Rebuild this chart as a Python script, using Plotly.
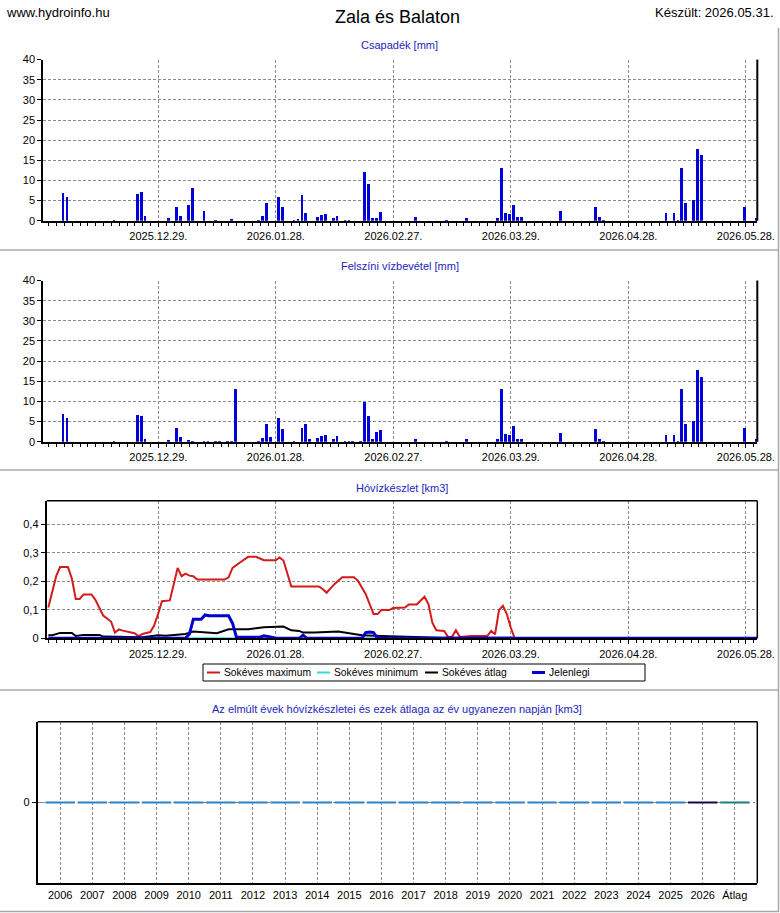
import plotly.graph_objects as go
import pandas as pd

W, H = 780, 913

# ---------------- data ----------------
# Panel 1: Csapadék [mm]
precip_dates = ["2025-12-04", "2025-12-05", "2025-12-17", "2025-12-23", "2025-12-24", "2025-12-25",
                "2025-12-31", "2026-01-02", "2026-01-03", "2026-01-05", "2026-01-06", "2026-01-09",
                "2026-01-12", "2026-01-16", "2026-01-23", "2026-01-24", "2026-01-25", "2026-01-28",
                "2026-01-29", "2026-02-01", "2026-02-02", "2026-02-03", "2026-02-04", "2026-02-07",
                "2026-02-08", "2026-02-09", "2026-02-11", "2026-02-12", "2026-02-14", "2026-02-15",
                "2026-02-19", "2026-02-20", "2026-02-21", "2026-02-22", "2026-02-23", "2026-03-04",
                "2026-03-12", "2026-03-17", "2026-03-25", "2026-03-26", "2026-03-27", "2026-03-28",
                "2026-03-29", "2026-03-30", "2026-03-31", "2026-04-10", "2026-04-19", "2026-04-20",
                "2026-04-21", "2026-05-07", "2026-05-09", "2026-05-10", "2026-05-11", "2026-05-12",
                "2026-05-14", "2026-05-15", "2026-05-16", "2026-05-27", "2026-05-30"]
precip_mm = [7.0, 5.9, 0.2, 6.8, 7.3, 1.2,
             0.7, 3.6, 1.3, 4.1, 8.1, 2.6,
             0.2, 0.6, 0.2, 1.2, 4.4, 5.9,
             3.4, 0.2, 0.6, 6.4, 1.9, 1.0,
             1.4, 1.7, 0.7, 1.3, 0.2, 0.2,
             12.1, 9.1, 0.7, 0.7, 2.2, 0.9,
             0.2, 0.7, 0.7, 13.3, 2.1, 1.7,
             4.1, 0.9, 0.9, 2.4, 3.4, 0.9,
             0.2, 1.9, 1.9, 0.2, 13.1, 4.5,
             5.2, 17.8, 16.3, 3.6, 0.7]

# Panel 2: Felszíni vízbevétel [mm]
runoff_dates = ["2025-12-04", "2025-12-05", "2025-12-17", "2025-12-23", "2025-12-24", "2025-12-25",
                "2025-12-31", "2026-01-02", "2026-01-03", "2026-01-05", "2026-01-06", "2026-01-09",
                "2026-01-10", "2026-01-12", "2026-01-13", "2026-01-15", "2026-01-16", "2026-01-17",
                "2026-01-23", "2026-01-24", "2026-01-25", "2026-01-26", "2026-01-28", "2026-01-29",
                "2026-02-01", "2026-02-03", "2026-02-04", "2026-02-05", "2026-02-07", "2026-02-08",
                "2026-02-09", "2026-02-11", "2026-02-12", "2026-02-14", "2026-02-15", "2026-02-16",
                "2026-02-18", "2026-02-19", "2026-02-20", "2026-02-21", "2026-02-22", "2026-02-23",
                "2026-03-04", "2026-03-12", "2026-03-17", "2026-03-25", "2026-03-26", "2026-03-27",
                "2026-03-28", "2026-03-29", "2026-03-30", "2026-03-31", "2026-04-10", "2026-04-19",
                "2026-04-20", "2026-04-21", "2026-05-07", "2026-05-09", "2026-05-10", "2026-05-11",
                "2026-05-12", "2026-05-14", "2026-05-15", "2026-05-16", "2026-05-27", "2026-05-30"]
runoff_mm = [7.1, 5.9, 0.2, 6.8, 6.6, 0.9,
             0.6, 3.6, 1.2, 0.6, 0.2, 0.2,
             0.2, 0.2, 0.2, 0.2, 0.2, 13.1,
             0.2, 1.0, 4.4, 1.4, 5.9, 3.4,
             0.2, 3.6, 4.4, 0.7, 1.0, 1.5,
             1.8, 0.7, 1.5, 0.2, 0.2, 0.2,
             0.2, 10.1, 6.6, 0.7, 2.6, 3.1,
             0.9, 0.2, 0.7, 0.7, 13.3, 2.1,
             1.7, 4.1, 0.9, 0.9, 2.4, 3.4,
             0.9, 0.2, 1.9, 1.9, 0.2, 13.1,
             4.4, 5.2, 17.8, 16.3, 3.6, 0.7]

month_ticks = ["2025-12-29", "2026-01-28", "2026-02-27", "2026-03-29", "2026-04-28", "2026-05-28"]
month_labels = ["2025.12.29.", "2026.01.28.", "2026.02.27.", "2026.03.29.", "2026.04.28.", "2026.05.28."]

# Panel 3: Hóvízkészlet [km3]
snow_max_dates = ["2025-12-01", "2025-12-03", "2025-12-04", "2025-12-06", "2025-12-07", "2025-12-08",
                  "2025-12-09", "2025-12-10", "2025-12-12", "2025-12-13", "2025-12-15", "2025-12-17",
                  "2025-12-18", "2025-12-19", "2025-12-20", "2025-12-22", "2025-12-23", "2025-12-24",
                  "2025-12-25", "2025-12-27", "2025-12-28", "2025-12-29", "2025-12-30", "2026-01-01",
                  "2026-01-02", "2026-01-03", "2026-01-04", "2026-01-05", "2026-01-06", "2026-01-07",
                  "2026-01-08", "2026-01-15", "2026-01-16", "2026-01-17", "2026-01-19", "2026-01-21",
                  "2026-01-23", "2026-01-25", "2026-01-28", "2026-01-29", "2026-01-30", "2026-02-01",
                  "2026-02-08", "2026-02-09", "2026-02-10", "2026-02-12", "2026-02-14", "2026-02-17",
                  "2026-02-18", "2026-02-20", "2026-02-22", "2026-02-23", "2026-02-24", "2026-02-26",
                  "2026-02-27", "2026-03-02", "2026-03-03", "2026-03-05", "2026-03-07", "2026-03-08",
                  "2026-03-09", "2026-03-10", "2026-03-12", "2026-03-13", "2026-03-14", "2026-03-15",
                  "2026-03-16", "2026-03-19", "2026-03-23", "2026-03-24", "2026-03-25", "2026-03-26",
                  "2026-03-27", "2026-03-28", "2026-03-29", "2026-03-30", "2026-05-31"]
snow_max = [0.108, 0.218, 0.25, 0.25, 0.21, 0.138,
            0.138, 0.154, 0.154, 0.135, 0.08, 0.059,
            0.02, 0.031, 0.027, 0.022, 0.018, 0.008,
            0.015, 0.022, 0.045, 0.085, 0.13, 0.133,
            0.19, 0.247, 0.218, 0.227, 0.22, 0.218,
            0.206, 0.206, 0.214, 0.247, 0.267, 0.286,
            0.286, 0.274, 0.274, 0.284, 0.273, 0.182,
            0.182, 0.173, 0.16, 0.19, 0.214, 0.214,
            0.202, 0.155, 0.085, 0.085, 0.099, 0.099,
            0.106, 0.108, 0.119, 0.119, 0.146, 0.12,
            0.055, 0.028, 0.026, 0.005, 0.005, 0.028,
            0.005, 0.008, 0.008, 0.026, 0.014, 0.099,
            0.114, 0.085, 0.038, 0.0, 0.0]

snow_min_dates = ["2025-12-01", "2026-05-31"]
snow_min = [0.0, 0.0]

snow_avg_dates = ["2025-12-01", "2025-12-02", "2025-12-04", "2025-12-07", "2025-12-08", "2025-12-10",
                  "2025-12-14", "2025-12-15", "2025-12-25", "2025-12-29", "2025-12-31", "2026-01-02",
                  "2026-01-05", "2026-01-07", "2026-01-10", "2026-01-13", "2026-01-16", "2026-01-21",
                  "2026-01-25", "2026-01-28", "2026-01-30", "2026-02-01", "2026-02-03", "2026-02-04",
                  "2026-02-07", "2026-02-13", "2026-02-15", "2026-02-17", "2026-02-19", "2026-02-24",
                  "2026-03-08", "2026-03-11", "2026-03-29", "2026-03-31", "2026-05-31"]
snow_avg = [0.011, 0.011, 0.019, 0.019, 0.008, 0.012,
            0.012, 0.006, 0.004, 0.011, 0.009, 0.011,
            0.015, 0.024, 0.021, 0.018, 0.032, 0.032,
            0.039, 0.041, 0.041, 0.028, 0.026, 0.02,
            0.02, 0.024, 0.02, 0.016, 0.011, 0.008,
            0.005, 0.002, 0.002, 0.0, 0.0]

snow_cur_dates = ["2025-12-01", "2026-01-05", "2026-01-06", "2026-01-07", "2026-01-09", "2026-01-10",
                  "2026-01-11", "2026-01-16", "2026-01-17", "2026-01-18", "2026-01-24", "2026-01-25",
                  "2026-01-27", "2026-01-28", "2026-02-03", "2026-02-04", "2026-02-05", "2026-02-19",
                  "2026-02-20", "2026-02-21", "2026-02-22", "2026-02-23", "2026-05-31"]
snow_cur = [0.0, 0.0, 0.015, 0.067, 0.067, 0.082,
            0.079, 0.079, 0.053, 0.004, 0.004, 0.009,
            0.004, 0.0, 0.0, 0.011, 0.0, 0.0,
            0.02, 0.022, 0.02, 0.0, 0.0]

snow_ticks = [0, 0.1, 0.2, 0.3, 0.4]
snow_labels = ["0", "0,1", "0,2", "0,3", "0,4"]

series_names = ["Sokéves maximum", "Sokéves minimum", "Sokéves átlag", "Jelenlegi"]

# Panel 4: previous years on the same day [km3]
years = ["2006", "2007", "2008", "2009", "2010", "2011", "2012", "2013", "2014", "2015", "2016",
         "2017", "2018", "2019", "2020", "2021", "2022", "2023", "2024", "2025", "2026", "Átlag"]
year_values = [0, 0, 0, 0, 0, 0, 0, 0, 0, 0, 0,
               0, 0, 0, 0, 0, 0, 0, 0, 0, 0, 0]

# ---------------- styling helpers ----------------
FONT = "Liberation Sans, Arial, sans-serif"
BLUE_T = "#2424c0"
GRID = "#8a8a8a"
DAY_MS = 86400000
SERIES_STYLE = [("#d41a1a", 2), ("#30dcdc", 2), ("black", 2), ("#0000d0", 3)]


def py(px):
    return 1 - px / H


def px_(x):
    return x / W


def date_axis(rng, domain, anchor):
    return dict(type="date", range=rng, domain=domain, anchor=anchor, automargin=False,
                tickmode="array", tickvals=month_ticks, ticktext=month_labels,
                showgrid=True, gridcolor=GRID, griddash="3px,2px", gridwidth=1,
                showline=True, linecolor="black", linewidth=2,
                ticks="outside", ticklen=4, tickcolor="black", tickwidth=1,
                tickfont=dict(size=11, color="black", family=FONT),
                minor=dict(dtick=2 * DAY_MS, tick0="2025-12-01", ticks="outside",
                           ticklen=3, tickcolor="black", showgrid=False),
                zeroline=False, fixedrange=True, layer="above traces")


def mm_axis(domain, anchor):
    return dict(range=[0, 40], domain=domain, anchor=anchor, dtick=5, tick0=0, automargin=False,
                showgrid=True, gridcolor=GRID, griddash="3px,2px", gridwidth=1,
                showline=True, linecolor="black", linewidth=2,
                ticks="outside", ticklen=4, tickcolor="black",
                tickfont=dict(size=11, color="black", family=FONT),
                zeroline=False, fixedrange=True, layer="above traces")


fig = go.Figure()

bar_shift = pd.Timedelta(hours=17)
bar_w = 0.68 * DAY_MS

fig.add_trace(go.Bar(x=pd.to_datetime(precip_dates) + bar_shift, y=precip_mm, width=bar_w,
                     marker=dict(color="#0000d8", line=dict(width=0)),
                     xaxis="x", yaxis="y", showlegend=False))
fig.add_trace(go.Bar(x=pd.to_datetime(runoff_dates) + bar_shift, y=runoff_mm, width=bar_w,
                     marker=dict(color="#0000d8", line=dict(width=0)),
                     xaxis="x2", yaxis="y2", showlegend=False))

snow_series = [(snow_max_dates, snow_max), (snow_min_dates, snow_min),
               (snow_avg_dates, snow_avg), (snow_cur_dates, snow_cur)]
for (xs, ys), name, (col, lw) in zip(snow_series, series_names, SERIES_STYLE):
    fig.add_trace(go.Scatter(x=xs, y=ys, mode="lines", name=name,
                             line=dict(color=col, width=lw), xaxis="x3", yaxis="y3",
                             showlegend=False))

year_colors = ["#2f80c4"] * 20 + ["#0a0a48", "#1f7d7d"]
fig.add_trace(go.Scatter(x=years, y=year_values, mode="markers",
                         marker=dict(symbol="line-ew", size=21, color=year_colors,
                                     line=dict(width=2, color=year_colors)),
                         xaxis="x4", yaxis="y4", showlegend=False))

x1dom = [px_(43.3), px_(757.3)]
x3dom = [px_(46.7), px_(757.3)]
x4dom = [px_(37.7), px_(757.3)]
y1dom = [py(220.7), py(59.6)]
y2dom = [py(441.7), py(280.5)]
y3dom = [py(638.3), py(500.7)]
y4dom = [py(883.3), py(721.7)]

range1 = ["2025-11-29 15:00", "2026-05-30 22:00"]
range3 = ["2025-11-30 14:00", "2026-05-30 22:00"]

layout = dict(
    width=W, height=H, autosize=False, margin=dict(l=0, r=0, t=0, b=0, pad=0, autoexpand=False),
    paper_bgcolor="white", plot_bgcolor="white",
    font=dict(family=FONT, size=11, color="black"),
    separators=", ",
    bargap=0,
    showlegend=False,
    xaxis=date_axis(range1, x1dom, "y"),
    yaxis=mm_axis(y1dom, "x"),
    xaxis2=date_axis(range1, x1dom, "y2"),
    yaxis2=mm_axis(y2dom, "x2"),
    xaxis3=date_axis(range3, x3dom, "y3"),
    yaxis3=dict(range=[0, 0.483], domain=y3dom, anchor="x3", tickmode="array", automargin=False,
                tickvals=snow_ticks, ticktext=snow_labels,
                showgrid=True, gridcolor=GRID, griddash="3px,2px", gridwidth=1,
                showline=True, linecolor="black", linewidth=2,
                ticks="outside", ticklen=4, tickcolor="black",
                tickfont=dict(size=11, color="black", family=FONT),
                zeroline=False, fixedrange=True, layer="above traces"),
    xaxis4=dict(type="category", range=[-0.7, len(years) - 0.3], domain=x4dom, anchor="y4",
                automargin=False,
                showgrid=True, gridcolor=GRID, griddash="3px,2px", gridwidth=1,
                showline=True, linecolor="black", linewidth=2, ticks="",
                tickfont=dict(size=11, color="black", family=FONT),
                fixedrange=True, layer="above traces"),
    yaxis4=dict(range=[-1, 1], domain=y4dom, anchor="x4", tickmode="array", automargin=False,
                tickvals=[0], ticktext=["0"],
                showgrid=True, gridcolor=GRID, griddash="7px,3px,2px,3px", gridwidth=1,
                showline=True, linecolor="black", linewidth=2,
                ticks="outside", ticklen=4, tickcolor="black",
                tickfont=dict(size=11, color="black", family=FONT),
                zeroline=False, fixedrange=True, layer="above traces"),
)
fig.update_layout(**layout)

ann = []
ann.append(dict(text="www.hydroinfo.hu", x=px_(4), y=py(13), xanchor="left", yanchor="middle",
                font=dict(size=13, color="black")))
ann.append(dict(text="Zala és Balaton", x=px_(397), y=py(17), xanchor="center", yanchor="middle",
                font=dict(size=18, color="black")))
ann.append(dict(text="Készült: 2026.05.31.", x=px_(776), y=py(13), xanchor="right", yanchor="middle",
                font=dict(size=13, color="black")))
for t, yy, xc in [("Csapadék [mm]", 45, 400),
                  ("Felszíni vízbevétel [mm]", 266, 400),
                  ("Hóvízkészlet [km3]", 488, 402),
                  ("Az elmúlt évek hóvízkészletei és ezek átlaga az év ugyanezen napján [km3]", 709, 397)]:
    ann.append(dict(text=t, x=px_(xc), y=py(yy), xanchor="center", yanchor="middle",
                    font=dict(size=11, color=BLUE_T)))

shapes = []
# legend box for panel 3 (drawn by hand to match the compact original legend)
LEG_TOP, LEG_BOT, LEG_L, LEG_R = 664, 681, 203, 645
LEG_SAMPLE_X = [207, 317, 425, 532]
shapes.append(dict(type="rect", xref="paper", yref="paper", x0=px_(LEG_L), x1=px_(LEG_R),
                   y0=py(LEG_BOT), y1=py(LEG_TOP), line=dict(color="black", width=1),
                   fillcolor="white", layer="above"))
for name, (col, lw), sx in zip(series_names, SERIES_STYLE, LEG_SAMPLE_X):
    ym = (LEG_TOP + LEG_BOT) / 2
    shapes.append(dict(type="line", xref="paper", yref="paper", x0=px_(sx), x1=px_(sx + 13),
                       y0=py(ym), y1=py(ym), line=dict(color=col, width=lw), layer="above"))
    ann.append(dict(text=name, x=px_(sx + 15), y=py(ym), xanchor="left", yanchor="middle",
                    font=dict(size=10.3, color="black")))

for a in ann:
    a.update(xref="paper", yref="paper", showarrow=False)
fig.update_layout(annotations=ann)

# panel separators
for yy in [250, 470, 690, 911.5]:
    shapes.append(dict(type="line", xref="paper", yref="paper", x0=0, x1=px_(779),
                       y0=py(yy), y1=py(yy), line=dict(color="#a8a8a8", width=1.5)))
shapes.append(dict(type="line", xref="paper", yref="paper", x0=px_(778.5), x1=px_(778.5),
                   y0=py(28), y1=py(911.5), line=dict(color="#a8a8a8", width=1.5)))
# right borders for bar panels
for xr, yr in [("x domain", "y domain"), ("x2 domain", "y2 domain")]:
    shapes.append(dict(type="line", xref=xr, yref=yr, x0=1, x1=1, y0=0, y1=1,
                       line=dict(color="black", width=2), layer="above"))
# frames for panel 3 and 4 (top and right)
for xr, yr in [("x3 domain", "y3 domain"), ("x4 domain", "y4 domain")]:
    shapes.append(dict(type="line", xref=xr, yref=yr, x0=0, x1=1, y0=1, y1=1,
                       line=dict(color="black", width=1.5), layer="above"))
    shapes.append(dict(type="line", xref=xr, yref=yr, x0=1, x1=1, y0=0, y1=1,
                       line=dict(color="black", width=1.5), layer="above"))
fig.update_layout(shapes=shapes)

fig.write_html("out.html", config={"displayModeBar": False},
               post_script="document.body.style.margin='0px';")
